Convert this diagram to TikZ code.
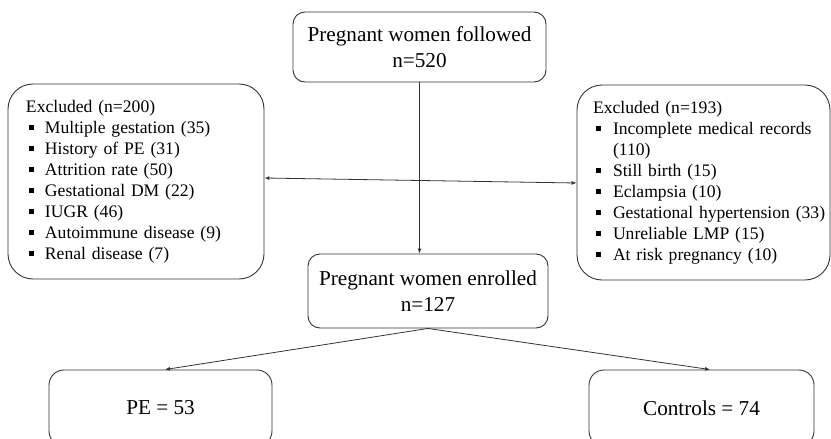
\documentclass[tikz,border=0pt]{standalone}
\usepackage{fontspec}
\setmainfont{Liberation Serif}
\usetikzlibrary{arrows.meta}
\newcommand{\bulsq}[1]{\makebox[#1][l]{\hspace{3pt}\rule[3.5pt]{5pt}{5pt}}}
\begin{document}
\begin{tikzpicture}[x=1pt,y=-1pt,
  box/.style={draw=black!80, line width=0.9pt, rounded corners=12pt, inner sep=0pt, align=center,
    font=\fontsize{21.2}{26}\selectfont},
  bigbox/.style={draw=black!80, line width=0.9pt, rounded corners=25pt, inner sep=0pt, align=left,
    font=\fontsize{17.6}{21}\selectfont},
  conn/.style={draw=black!80, line width=0.8pt, -{Latex[length=5pt,width=4pt]}},
  conn2/.style={draw=black!80, line width=0.8pt, {Latex[length=5pt,width=4pt]}-{Latex[length=5pt,width=4pt]}}
]
\clip (0,0) rectangle (831,439);
\fill[white] (0,0) rectangle (831,439);

\node[box, minimum width=253pt, minimum height=70pt] (T) at (419.5,47) {Pregnant women followed\\n=520};
\node[box, minimum width=240pt, minimum height=74pt] (E) at (428,291) {Pregnant women enrolled\\n=127};

\node[bigbox, minimum height=195pt, text width=220pt, inner xsep=18pt] (L) at (136,181.5) {%
\renewcommand{\arraystretch}{1}%
\begin{tabular}{@{}l@{}l@{}}
\multicolumn{2}{@{}l@{}}{Excluded (n=200)}\\
\bulsq{19pt} & Multiple gestation (35)\\
\bulsq{19pt} & History of PE (31)\\
\bulsq{19pt} & Attrition rate (50)\\
\bulsq{19pt} & Gestational DM (22)\\
\bulsq{19pt} & IUGR (46)\\
\bulsq{19pt} & Autoimmune disease (9)\\
\bulsq{19pt} & Renal disease (7)
\end{tabular}};

\node[bigbox, minimum height=195pt, text width=221pt, inner xsep=16pt] (R) at (703.5,182.5) {%
\renewcommand{\arraystretch}{1}%
\begin{tabular}{@{}l@{}l@{}}
\multicolumn{2}{@{}l@{}}{Excluded (n=193)}\\
\bulsq{20pt} & Incomplete medical records\\
 & (110)\\
\bulsq{20pt} & Still birth (15)\\
\bulsq{20pt} & Eclampsia (10)\\
\bulsq{20pt} & Gestational hypertension (33)\\
\bulsq{20pt} & Unreliable LMP (15)\\
\bulsq{20pt} & At risk pregnancy (10)
\end{tabular}};

\node[box, rounded corners=15pt, minimum width=223pt, minimum height=76pt] (P) at (160.5,408) {PE = 53};
\node[box, rounded corners=15pt, minimum width=225pt, minimum height=76pt] (C) at (701.5,408) {Controls = 74};

\draw[conn] (T.south) -- (T.south |- E.north);
\draw[conn2] ([yshift=3.5pt]L.east) -- ([yshift=-0.5pt]R.west);
\draw[conn] (E.south) -- ([xshift=4.5pt]P.north);
\draw[conn] (E.south) -- ([xshift=8.5pt]C.north);
\end{tikzpicture}
\end{document}
